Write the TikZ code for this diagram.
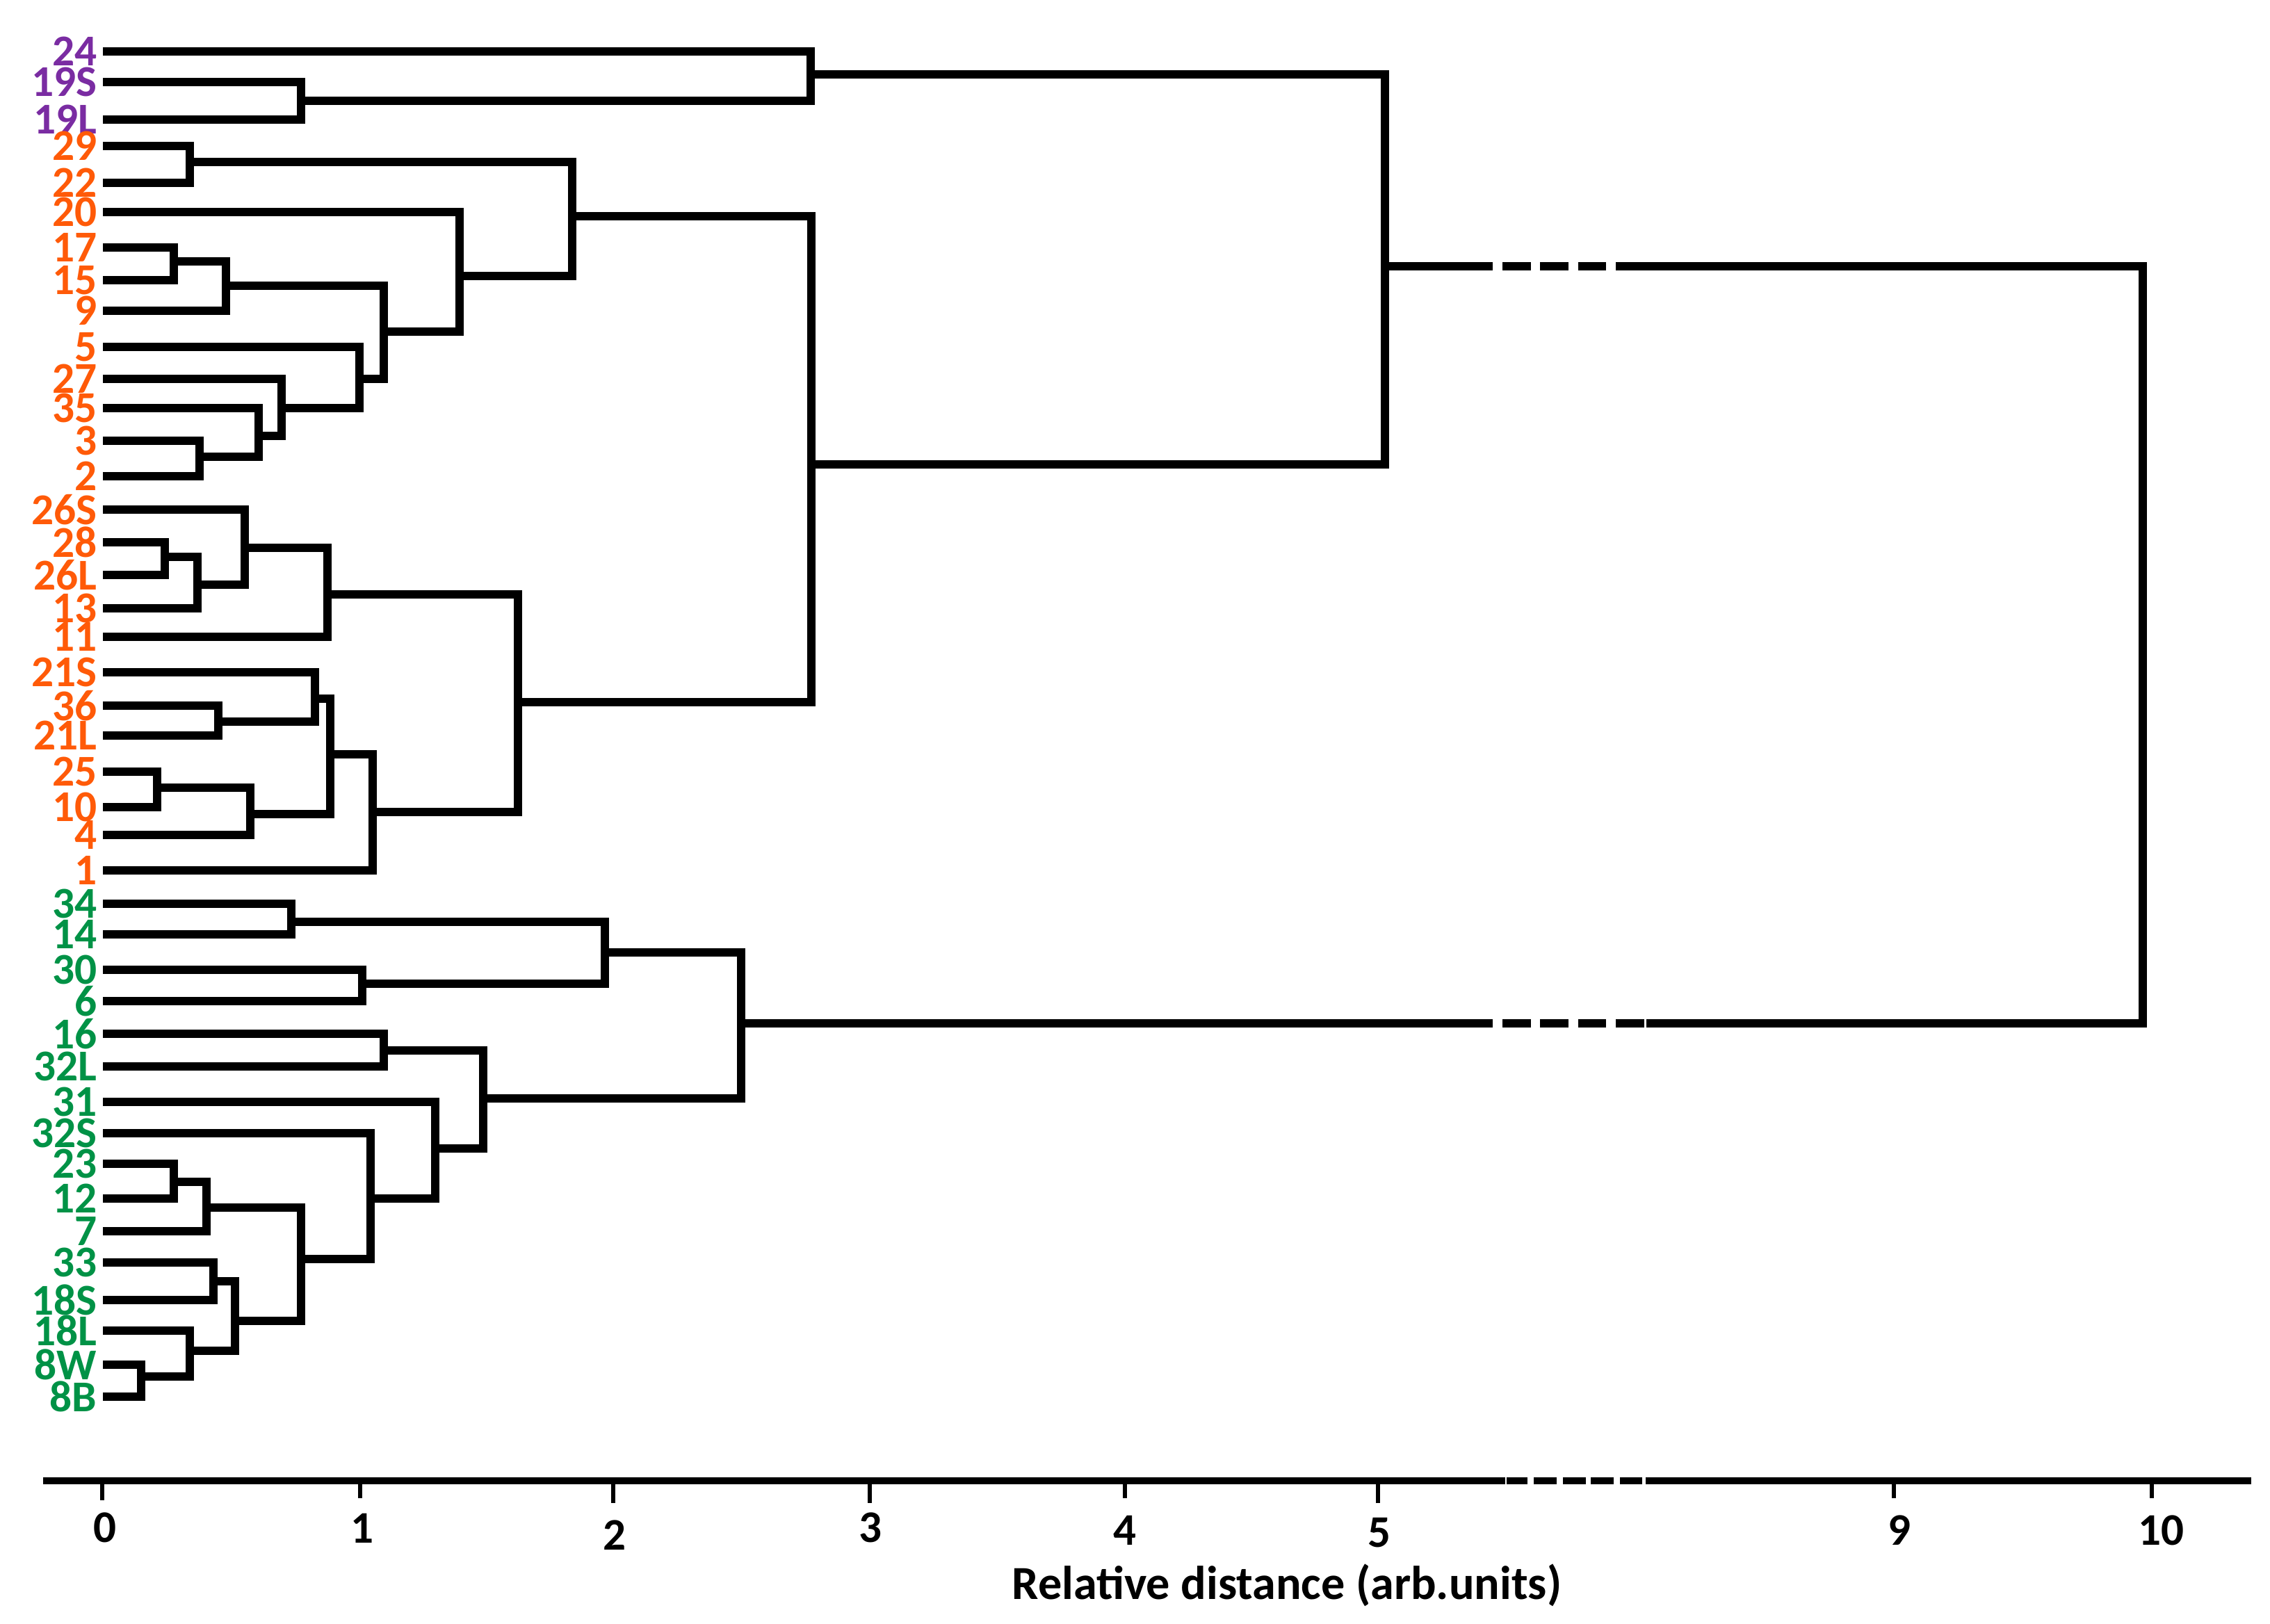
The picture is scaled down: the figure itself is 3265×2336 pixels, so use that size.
\documentclass[tikz,border=0pt]{standalone}
\usepackage{fontspec}
\setmainfont{Carlito}
\usepackage{tikz}
\definecolor{purple}{RGB}{122,44,162}
\definecolor{orange}{RGB}{255,90,8}
\definecolor{green}{RGB}{0,146,70}
\tikzset{
    branch/.style = {line width=3.15pt, line join=miter},
    leaf/.style = {anchor=east, inner sep=0pt, font=\bfseries\fontsize{18}{18}\selectfont},
    ticklab/.style = {inner sep=0pt, font=\bfseries\fontsize{18.5}{19}\selectfont},
    tickmark/.style = {line width=1.6pt}
}

\begin{document}
\begin{tikzpicture}[x=0.01cm, y=-0.01cm, line cap=butt]
\useasboundingbox (0,0) rectangle (3265,2336);

\node[leaf, purple] (l24) at (140,74) {24};
\node[leaf, purple] (l19S) at (140,118) {19S};
\node[leaf, purple] (l19L) at (140,172) {19L};
\node[leaf, orange] (l29) at (140,210) {29};
\node[leaf, orange] (l22) at (140,263) {22};
\node[leaf, orange] (l20) at (140,305) {20};
\node[leaf, orange] (l17) at (140,356) {17};
\node[leaf, orange] (l15) at (140,403) {15};
\node[leaf, orange] (l9) at (140,447) {9};
\node[leaf, orange] (l5) at (140,499) {5};
\node[leaf, orange] (l27) at (140,545) {27};
\node[leaf, orange] (l35) at (140,587) {35};
\node[leaf, orange] (l3) at (140,634) {3};
\node[leaf, orange] (l2) at (140,685) {2};
\node[leaf, orange] (l26S) at (140,733) {26S};
\node[leaf, orange] (l28) at (140,780) {28};
\node[leaf, orange] (l26L) at (140,827) {26L};
\node[leaf, orange] (l13) at (140,875) {13};
\node[leaf, orange] (l11) at (140,916) {11};
\node[leaf, orange] (l21S) at (140,967) {21S};
\node[leaf, orange] (l36) at (140,1015) {36};
\node[leaf, orange] (l21L) at (140,1058) {21L};
\node[leaf, orange] (l25) at (140,1110) {25};
\node[leaf, orange] (l10) at (140,1161) {10};
\node[leaf, orange] (l4) at (140,1201) {4};
\node[leaf, orange] (l1) at (140,1252) {1};
\node[leaf, green] (l34) at (140,1300) {34};
\node[leaf, green] (l14) at (140,1344) {14};
\node[leaf, green] (l30) at (140,1395) {30};
\node[leaf, green] (l6) at (140,1440) {6};
\node[leaf, green] (l16) at (140,1487) {16};
\node[leaf, green] (l32L) at (140,1534) {32L};
\node[leaf, green] (l31) at (140,1585) {31};
\node[leaf, green] (l32S) at (140,1630) {32S};
\node[leaf, green] (l23) at (140,1674) {23};
\node[leaf, green] (l12) at (140,1724) {12};
\node[leaf, green] (l7) at (140,1771) {7};
\node[leaf, green] (l33) at (140,1816) {33};
\node[leaf, green] (l18S) at (140,1870) {18S};
\node[leaf, green] (l18L) at (140,1914) {18L};
\node[leaf, green] (l8W) at (140,1963) {8W};
\node[leaf, green] (l8B) at (140,2009) {8B};

\draw[branch] (148,118) -| (433,172) -- (148,172);
\draw[branch] (148,74) -| (1166,145) -- (433,145);

\draw[branch] (148,210) -| (273,263) -- (148,263);
\draw[branch] (148,356) -| (250,403) -- (148,403);
\draw[branch] (250,376) -| (325,447) -- (148,447);
\draw[branch] (148,634) -| (287,685) -- (148,685);
\draw[branch] (148,587) -| (372,657) -- (287,657);
\draw[branch] (148,545) -| (405,627) -- (372,627);
\draw[branch] (148,499) -| (517,587) -- (405,587);
\draw[branch] (325,411) -| (552,545) -- (517,545);
\draw[branch] (148,305) -| (661,477) -- (552,477);
\draw[branch] (273,233) -| (823,397) -- (661,397);

\draw[branch] (148,780) -| (237,827) -- (148,827);
\draw[branch] (237,801) -| (284,875) -- (148,875);
\draw[branch] (148,733) -| (352,841) -- (284,841);
\draw[branch] (352,788) -| (471,916) -- (148,916);
\draw[branch] (148,1015) -| (314,1058) -- (148,1058);
\draw[branch] (148,967) -| (453,1038) -- (314,1038);
\draw[branch] (148,1110) -| (226,1161) -- (148,1161);
\draw[branch] (226,1133) -| (360,1201) -- (148,1201);
\draw[branch] (453,1005) -| (475,1171) -- (360,1171);
\draw[branch] (475,1085) -| (536,1252) -- (148,1252);
\draw[branch] (471,855) -| (745,1168) -- (536,1168);
\draw[branch] (823,311) -| (1167,1010) -- (745,1010);

\draw[branch] (1166,107) -| (1992,668) -- (1167,668);

\draw[branch] (148,1300) -| (419,1344) -- (148,1344);
\draw[branch] (148,1395) -| (521,1440) -- (148,1440);
\draw[branch] (419,1326) -| (870,1415) -- (521,1415);
\draw[branch] (148,1487) -| (552,1534) -- (148,1534);
\draw[branch] (148,1674) -| (250,1724) -- (148,1724);
\draw[branch] (250,1700) -| (297,1771) -- (148,1771);
\draw[branch] (148,1816) -| (307,1870) -- (148,1870);
\draw[branch] (148,1963) -| (203,2009) -- (148,2009);
\draw[branch] (148,1914) -| (273,1980) -- (203,1980);
\draw[branch] (307,1843) -| (338,1943) -- (273,1943);
\draw[branch] (297,1737) -| (433,1900) -- (338,1900);
\draw[branch] (148,1630) -| (533,1811) -- (433,1811);
\draw[branch] (148,1585) -| (626,1724) -- (533,1724);
\draw[branch] (552,1511) -| (695,1652) -- (626,1652);
\draw[branch] (870,1370) -| (1066,1580) -- (695,1580);

\draw[branch] (1992,383) -- (2147,383);
\draw[branch] (2161,383) -- (2202,383);
\draw[branch] (2215,383) -- (2256,383);
\draw[branch] (2270,383) -- (2310,383);
\draw[branch] (2324,383) -| (3082,1472) -- (2368,1472);
\draw[branch] (2324,1472) -- (2365,1472);
\draw[branch] (2270,1472) -- (2310,1472);
\draw[branch] (2215,1472) -- (2256,1472);
\draw[branch] (2161,1472) -- (2202,1472);
\draw[branch] (2147,1472) -- (1066,1472);

\draw[line width=2.85pt] (62,2130) -- (2165,2130);
\draw[line width=2.85pt] (2167,2130) -- (2197,2130);
\draw[line width=2.85pt] (2206,2130) -- (2239,2130);
\draw[line width=2.85pt] (2248,2130) -- (2281,2130);
\draw[line width=2.85pt] (2288,2130) -- (2321,2130);
\draw[line width=2.85pt] (2330,2130) -- (2362,2130);
\draw[line width=2.85pt] (2367,2130) -- (3238,2130);

\draw[tickmark] (147,2134) -- (147,2158);
\draw[tickmark] (518,2134) -- (518,2155);
\draw[tickmark] (882,2134) -- (882,2162);
\draw[tickmark] (1251,2134) -- (1251,2162);
\draw[tickmark] (1618,2134) -- (1618,2155);
\draw[tickmark] (1982,2134) -- (1982,2162);
\draw[tickmark] (2724,2134) -- (2724,2155);
\draw[tickmark] (3095,2134) -- (3095,2155);

\node[ticklab] (t0) at (151,2197) {0};
\node[ticklab] (t1) at (521,2198) {1};
\node[ticklab] (t2) at (884,2208) {2};
\node[ticklab] (t3) at (1252,2197) {3};
\node[ticklab] (t4) at (1618,2201) {4};
\node[ticklab] (t5) at (1984,2205) {5};
\node[ticklab] (t9) at (2732,2201) {9};
\node[ticklab] (t10) at (3108,2201) {10};

\node[anchor=base, inner sep=0pt, font=\bfseries\fontsize{19.4}{21}\selectfont] (xlabel) at (1851,2300) {Relative distance (arb.units)};
\end{tikzpicture}
\end{document}
